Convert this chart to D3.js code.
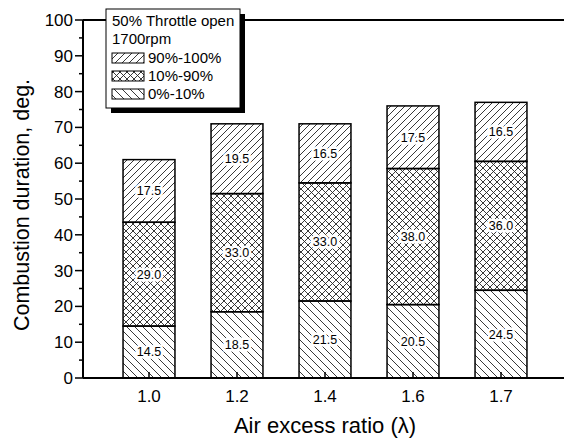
<!DOCTYPE html>
<html>
<head>
<meta charset="utf-8">
<script src="https://cdn.jsdelivr.net/npm/d3@7"></script>
<style>
  body { margin: 0; background: #fff; }
  svg { font-family: "Liberation Sans", Arial, sans-serif; }
</style>
</head>
<body>
<div id="container"></div>
<script>
const categories = ["1.0", "1.2", "1.4", "1.6", "1.7"];
const early  = [14.5, 18.5, 21.5, 20.5, 24.5];   // 0%-10%
const main   = [29.0, 33.0, 33.0, 38.0, 36.0];   // 10%-90%
const late   = [17.5, 19.5, 16.5, 17.5, 16.5];   // 90%-100%
const yTicks = [0, 10, 20, 30, 40, 50, 60, 70, 80, 90, 100];
const legendLabels = ["90%-100%", "10%-90%", "0%-10%"];

const width = 564, height = 441;
const margin = { top: 20, right: 0, bottom: 63, left: 83 };

const svg = d3.select("#container").append("svg")
  .attr("width", width)
  .attr("height", height);

// hatch patterns
const defs = svg.append("defs");
function hatch(id, d, size) {
  defs.append("pattern")
    .attr("id", id)
    .attr("patternUnits", "userSpaceOnUse")
    .attr("width", size).attr("height", size)
    .append("path")
      .attr("d", d)
      .attr("stroke", "#222")
      .attr("stroke-width", 0.9)
      .attr("fill", "none");
}
hatch("fwd", "M0,7 L7,0 M-1,1 L1,-1 M6,8 L8,6", 7);
hatch("cross", "M0,7 L7,0 M-1,1 L1,-1 M6,8 L8,6 M0,0 L7,7 M-1,6 L1,8 M6,-1 L8,1", 7);
hatch("back", "M0,0 L8,8 M-1,7 L1,9 M7,-1 L9,1", 8);
const patterns = ["url(#fwd)", "url(#cross)", "url(#back)"];

const x = d3.scaleBand()
  .domain(categories)
  .range([105, 545])
  .paddingInner(0.41)
  .paddingOuter(0.205);

const y = d3.scaleLinear()
  .domain([0, 100])
  .range([height - margin.bottom, margin.top]);

// stacked data
const rows = categories.map((c, i) => ({ cat: c, early: early[i], main: main[i], late: late[i] }));
const stack = d3.stack().keys(["early", "main", "late"])(rows);
const fills = { early: "url(#back)", main: "url(#cross)", late: "url(#fwd)" };

const layers = svg.selectAll("g.layer")
  .data(stack)
  .join("g")
    .attr("class", "layer");

layers.selectAll("rect")
  .data(d => d.map(p => ({ key: d.key, p })))
  .join("rect")
    .attr("x", d => x(d.p.data.cat))
    .attr("y", d => y(d.p[1]))
    .attr("width", x.bandwidth())
    .attr("height", d => y(d.p[0]) - y(d.p[1]))
    .attr("fill", d => fills[d.key])
    .attr("stroke", "#000")
    .attr("stroke-width", 1.5);

// value labels (white backing like the print)
layers.selectAll("text")
  .data(d => d.map(p => ({ key: d.key, p })))
  .join("text")
    .attr("x", d => x(d.p.data.cat) + x.bandwidth() / 2)
    .attr("y", d => y((d.p[0] + d.p[1]) / 2))
    .attr("dy", "0.35em")
    .attr("text-anchor", "middle")
    .attr("font-size", 12.5)
    .attr("stroke", "#fff")
    .attr("stroke-width", 5)
    .attr("paint-order", "stroke")
    .text(d => (d.p[1] - d.p[0]).toFixed(1));

// x axis
const xAxis = svg.append("g")
  .attr("transform", `translate(0,${y(0)})`);
xAxis.append("line")
  .attr("x1", margin.left).attr("x2", width)
  .attr("stroke", "#000").attr("stroke-width", 2);
xAxis.selectAll("line.tick")
  .data(categories)
  .join("line")
    .attr("class", "tick")
    .attr("x1", d => x(d) + x.bandwidth() / 2)
    .attr("x2", d => x(d) + x.bandwidth() / 2)
    .attr("y1", 0).attr("y2", -6)
    .attr("stroke", "#000").attr("stroke-width", 1.5);
xAxis.selectAll("text")
  .data(categories)
  .join("text")
    .attr("x", d => x(d) + x.bandwidth() / 2)
    .attr("y", 24)
    .attr("text-anchor", "middle")
    .attr("font-size", 17)
    .text(d => d);

// y axis
const yAxis = svg.append("g")
  .attr("transform", `translate(${margin.left},0)`);
yAxis.append("line")
  .attr("y1", y(0)).attr("y2", y(100))
  .attr("stroke", "#000").attr("stroke-width", 2);
yAxis.selectAll("line.major")
  .data(yTicks)
  .join("line")
    .attr("class", "major")
    .attr("x1", -8).attr("x2", 0)
    .attr("y1", d => y(d)).attr("y2", d => y(d))
    .attr("stroke", "#000").attr("stroke-width", 1.5);
yAxis.selectAll("line.minor")
  .data(yTicks.slice(0, -1).map(d => d + 5))
  .join("line")
    .attr("class", "minor")
    .attr("x1", -4).attr("x2", 0)
    .attr("y1", d => y(d)).attr("y2", d => y(d))
    .attr("stroke", "#000").attr("stroke-width", 1.5);
yAxis.selectAll("text")
  .data(yTicks)
  .join("text")
    .attr("x", -10)
    .attr("y", d => y(d))
    .attr("dy", "0.35em")
    .attr("text-anchor", "end")
    .attr("font-size", 17)
    .text(d => d);

// top frame line
svg.append("line")
  .attr("x1", margin.left).attr("x2", width)
  .attr("y1", y(100)).attr("y2", y(100))
  .attr("stroke", "#000").attr("stroke-width", 2);

// axis titles
svg.append("text")
  .attr("transform", "translate(29,205) rotate(-90)")
  .attr("text-anchor", "middle")
  .attr("font-size", 21.5)
  .text("Combustion duration, deg.");

svg.append("text")
  .attr("x", 325)
  .attr("y", 433)
  .attr("text-anchor", "middle")
  .attr("font-size", 22)
  .text("Air excess ratio (λ)");

// legend
const lg = svg.append("g").attr("transform", "translate(106,9)");
lg.append("rect")
  .attr("x", 5).attr("y", 5)
  .attr("width", 134).attr("height", 99)
  .attr("fill", "#000");
lg.append("rect")
  .attr("width", 134).attr("height", 99)
  .attr("fill", "#fff")
  .attr("stroke", "#000").attr("stroke-width", 1);
lg.append("text").attr("x", 6).attr("y", 17).attr("font-size", 15).text("50% Throttle open");
lg.append("text").attr("x", 6).attr("y", 35).attr("font-size", 15).text("1700rpm");
legendLabels.forEach((t, i) => {
  const base = 54 + i * 18;
  lg.append("rect")
    .attr("x", 6).attr("y", base - 10)
    .attr("width", 32).attr("height", 10)
    .attr("fill", patterns[i])
    .attr("stroke", "#000").attr("stroke-width", 1);
  lg.append("text")
    .attr("x", 42).attr("y", base)
    .attr("font-size", 15)
    .text(t);
});
</script>
</body>
</html>
